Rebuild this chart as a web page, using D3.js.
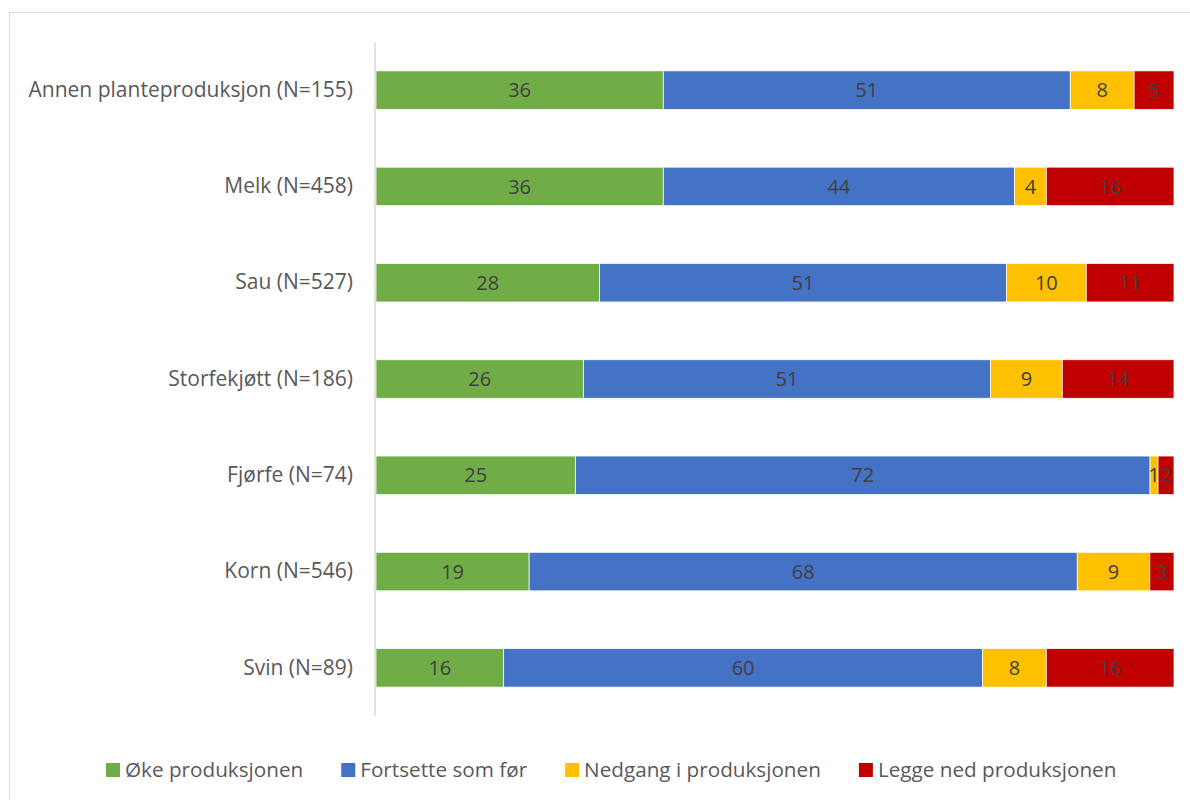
<!DOCTYPE html>
<html>
<head>
<meta charset="utf-8">
<script src="https://cdn.jsdelivr.net/npm/d3@7"></script>
<style>
  body { margin: 0; background: #fff; }
  text { font-family: "Open Sans", "Noto Sans", sans-serif; }
</style>
</head>
<body>
<script>
// categories, top to bottom
var categories = ["Annen planteproduksjon (N=155)", "Melk (N=458)", "Sau (N=527)",
  "Storfekjøtt (N=186)", "Fjørfe (N=74)", "Korn (N=546)", "Svin (N=89)"];
var seriesNames = ["Øke produksjonen", "Fortsette som før", "Nedgang i produksjonen", "Legge ned produksjonen"];
var oke = [36, 36, 28, 26, 25, 19, 16];
var fortsette = [51, 44, 51, 51, 72, 68, 60];
var nedgang = [8, 4, 10, 9, 1, 9, 8];
var legge = [5, 16, 11, 14, 2, 3, 16];
var colors = ["#70ad47", "#4472c4", "#ffc000", "#c00000"];

var width = 1190, height = 800;
var margin = {left: 376, right: 16, top: 42, bottom: 84};

var rows = categories.map(function(c, i) {
  return {cat: c, s0: oke[i], s1: fortsette[i], s2: nedgang[i], s3: legge[i]};
});
var keys = ["s0", "s1", "s2", "s3"];
var stack = d3.stack().keys(keys).offset(d3.stackOffsetExpand);
var layers = stack(rows);

var svg = d3.select("body").append("svg")
  .attr("width", width).attr("height", height);

// chart border
svg.append("rect")
  .attr("x", 9.5).attr("y", 12.5)
  .attr("width", 1200).attr("height", 800)
  .attr("fill", "none").attr("stroke", "#d9d9d9");

var x = d3.scaleLinear().domain([0, 1]).range([margin.left, width - margin.right]);
var y = d3.scaleBand().domain(categories)
  .range([margin.top, height - margin.bottom]).paddingInner(0.6).paddingOuter(0.3);

// bars
var g = svg.append("g").selectAll("g").data(layers).enter().append("g")
  .attr("fill", function(d, i) { return colors[i]; });

g.selectAll("rect").data(function(d) { return d; }).enter().append("rect")
  .attr("x", function(d) { return x(d[0]); })
  .attr("y", function(d) { return y(d.data.cat); })
  .attr("width", function(d) { return x(d[1]) - x(d[0]); })
  .attr("height", y.bandwidth())
  .attr("stroke", "#fff").attr("stroke-width", 0.75);

// data labels
g.each(function(layer) {
  d3.select(this).selectAll("text").data(layer).enter().append("text")
    .attr("x", function(d) { return (x(d[0]) + x(d[1])) / 2; })
    .attr("y", function(d) { return y(d.data.cat) + y.bandwidth() / 2; })
    .attr("dy", "0.36em")
    .attr("text-anchor", "middle")
    .attr("font-size", 20)
    .attr("fill", "#404040")
    .text(function(d) { return d.data[layer.key]; });
});

// y axis
var yAxis = svg.append("g")
  .attr("transform", "translate(" + (margin.left - 1) + ",0)")
  .call(d3.axisLeft(y).tickSize(0).tickPadding(22));
yAxis.select(".domain").attr("stroke", "#d9d9d9").attr("stroke-width", 1.5)
  .attr("d", "M0," + margin.top + "V" + (height - margin.bottom));
yAxis.selectAll("text")
  .attr("font-size", 21).attr("fill", "#595959")
  .style("font-family", "'Open Sans', 'Noto Sans', sans-serif");

// legend, laid out left to right from measured text widths
var legend = svg.append("g").attr("transform", "translate(0,770)");
var lx = 106;
seriesNames.forEach(function(name, i) {
  var item = legend.append("g").attr("transform", "translate(" + lx + ",0)");
  item.append("rect")
    .attr("x", 0).attr("y", -7).attr("width", 14).attr("height", 14)
    .attr("fill", colors[i]);
  var t = item.append("text")
    .attr("x", 19).attr("dy", "0.36em")
    .attr("font-size", 20.7).attr("fill", "#595959")
    .text(name);
  lx += 19 + t.node().getComputedTextLength() + 38;
});
</script>
</body>
</html>
